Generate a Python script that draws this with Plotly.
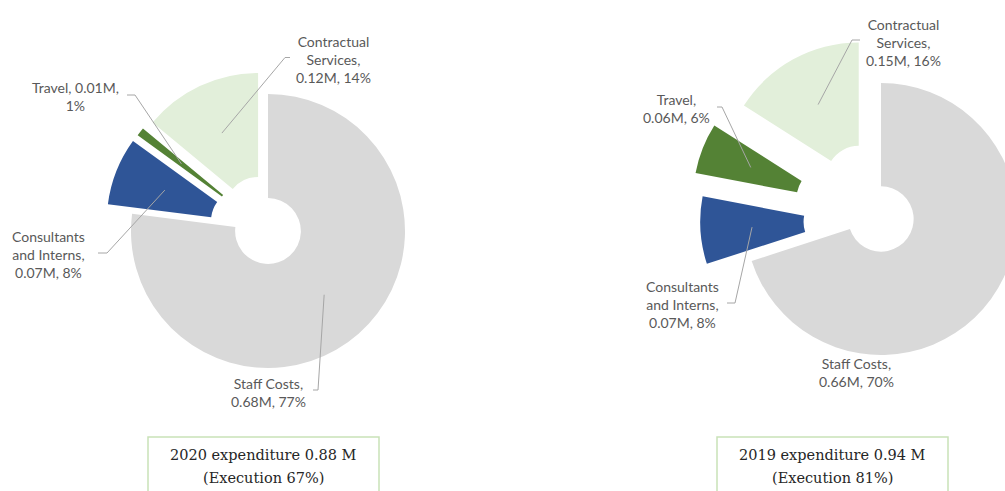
import math
import plotly.graph_objects as go

# ---------------- data ----------------
categories = ["Staff Costs", "Consultants and Interns", "Travel", "Contractual Services"]
display_names = ["Staff Costs", "Consultants<br>and Interns", "Travel", "Contractual<br>Services"]
amounts_2020 = [0.68, 0.07, 0.01, 0.12]
percent_2020 = [77, 8, 1, 14]
amounts_2019 = [0.66, 0.07, 0.06, 0.15]
percent_2019 = [70, 8, 6, 16]
box_line1 = ["2020 expenditure 0.88 M", "2019 expenditure 0.94 M"]
box_line2 = ["(Execution 67%)", "(Execution 81%)"]

# ---------------- styles / layout ----------------
colors = ["#d9d9d9", "#2f5597", "#548235", "#e2efda"]
W, H = 1075, 491
LABEL_FONT = dict(family="Lato, Open Sans, sans-serif", size=14, color="#595959")
BOX_FONT = dict(family="DejaVu Serif, serif", size=14.5, color="#262626")
LEADER = dict(color="#a6a6a6", width=1)

charts = [
    dict(amounts=amounts_2020, percents=percent_2020, cx=268, cy=231, r=137,
         pulls=[0, 0.19, 0.18, 0.17],
         templates=["{n},<br>{a:.2f}M, {p}%", "{n},<br>{a:.2f}M, {p}%",
                    "{n}, {a:.2f}M,<br>{p}%", "{n},<br>{a:.2f}M, {p}%"],
         label_pos=[(268, 392), (48, 254), (75, 96), (333, 59)],
         leaders=[[(313, 390), (318, 390)], [(98, 253), (107, 253)],
                  [(127, 95), (135, 95)], [(290, 57.5), (285, 57.5)]],
         box=(148, 379, 437), text_cx=263.5),
    dict(amounts=amounts_2019, percents=percent_2019, cx=881, cy=219, r=136,
         pulls=[0, 0.33, 0.41, 0.34],
         templates=["{n},<br>{a:.2f}M, {p}%"] * 4,
         label_pos=[(856, 372), (682, 304), (676, 109), (903, 42)],
         leaders=[None, [(727, 303), (735, 303)],
                  [(717, 107), (722, 107)], [(860, 40), (852, 40)]],
         box=(717, 948, 437), text_cx=832.5),
]


def px(x):
    return x / W


def py(y):
    return 1 - y / H


fig = go.Figure()
shapes = []
annotations = []

for ch in charts:
    cx, cy, r, pulls = ch["cx"], ch["cy"], ch["r"], ch["pulls"]
    half = r * (1 + max(pulls))
    fig.add_trace(go.Pie(
        labels=categories, values=ch["percents"], sort=False,
        direction="clockwise", rotation=0, hole=0.24, pull=pulls,
        marker=dict(colors=colors, line=dict(width=0)),
        textinfo="none", hoverinfo="skip", showlegend=False,
        domain=dict(x=[px(cx - half), px(cx + half)], y=[py(cy + half), py(cy - half)]),
    ))

    total = sum(ch["percents"])
    cum = 0
    for i, v in enumerate(ch["percents"]):
        mid = math.radians(360 * (cum + v / 2) / total)
        cum += v
        k = pulls[i] + 0.62
        tip = (cx + k * r * math.sin(mid), cy - k * r * math.cos(mid))
        txt = ch["templates"][i].format(n=display_names[i], a=ch["amounts"][i], p=ch["percents"][i])
        lx, ly = ch["label_pos"][i]
        annotations.append(dict(x=px(lx), y=py(ly), xref="paper", yref="paper",
                                text=txt, showarrow=False, font=LABEL_FONT,
                                align="center", xanchor="center", yanchor="middle"))
        ld = ch["leaders"][i]
        if ld:
            (x0, y0), (x1, y1) = ld
            path = f"M {px(x0)},{py(y0)} L {px(x1)},{py(y1)} L {px(tip[0])},{py(tip[1])}"
            shapes.append(dict(type="path", path=path, xref="paper", yref="paper",
                               line=LEADER, layer="above"))

    bx0, bx1, by0 = ch["box"]
    shapes.append(dict(type="rect", xref="paper", yref="paper",
                       x0=px(bx0), x1=px(bx1), y0=py(by0), y1=py(H + 40),
                       line=dict(color="#c9e2b8", width=1.5), fillcolor="rgba(0,0,0,0)"))

for j, ch in enumerate(charts):
    annotations.append(dict(x=px(ch["text_cx"]), y=py(455), xref="paper", yref="paper",
                            text=box_line1[j], showarrow=False, font=BOX_FONT,
                            xanchor="center", yanchor="middle"))
    annotations.append(dict(x=px(ch["text_cx"]), y=py(477.5), xref="paper", yref="paper",
                            text=box_line2[j], showarrow=False, font=BOX_FONT,
                            xanchor="center", yanchor="middle"))

fig.update_layout(
    width=W, height=H, margin=dict(l=0, r=0, t=0, b=0),
    paper_bgcolor="white", plot_bgcolor="white", showlegend=False,
    shapes=shapes, annotations=annotations,
)

fig.write_html(
    "out.html",
    post_script="document.documentElement.style.overflow='hidden';"
                "document.body.style.overflow='hidden';document.body.style.margin='0';",
)
